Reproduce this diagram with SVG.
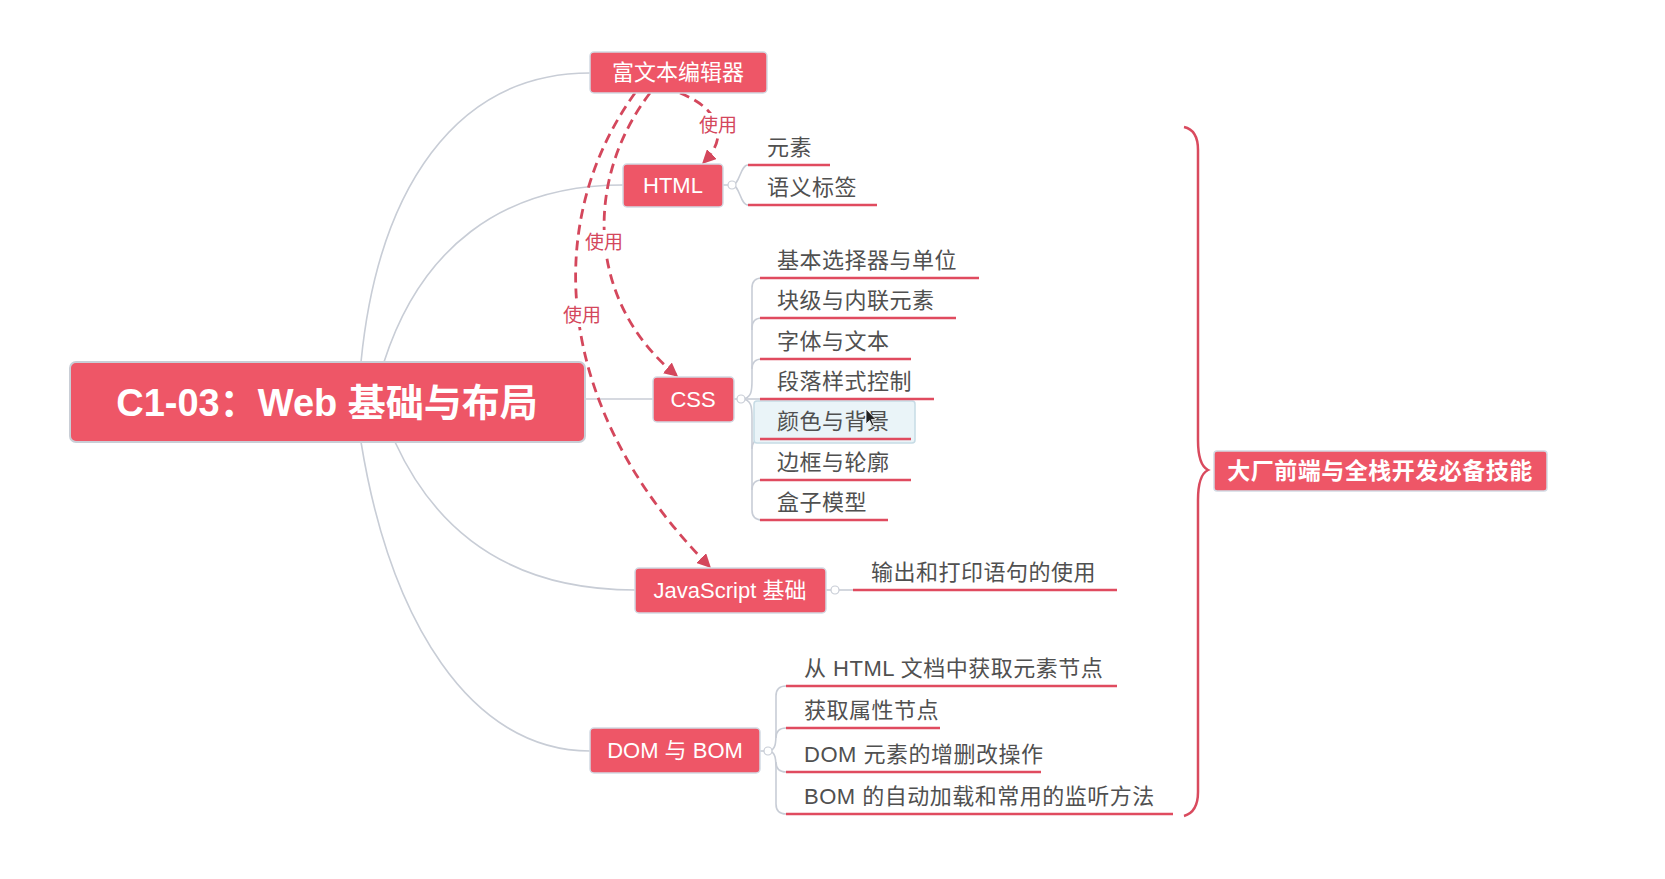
<svg xmlns="http://www.w3.org/2000/svg" width="1665" height="879" viewBox="0 0 1665 879">
<defs>
<style>
.node{fill:#ee5667;stroke:#d2dae3;stroke-width:1.5}
.ntxt{fill:#ffffff;font-family:"Liberation Sans","Noto Sans CJK SC",sans-serif;font-size:22px;text-anchor:middle}
.leaf{fill:#505050;font-family:"Liberation Sans","Noto Sans CJK SC",sans-serif;font-size:22px;letter-spacing:0.5px}
.ul{stroke:#e04b5f;stroke-width:2.5;fill:none}
.conn{stroke:#c8cdd6;stroke-width:1.6;fill:none}
.dash{stroke:#d4475c;stroke-width:2.8;fill:none;stroke-dasharray:10 6;marker-end:url(#arr)}
.lbl{fill:#d4475c;font-family:"Liberation Sans","Noto Sans CJK SC",sans-serif;font-size:19px;text-anchor:middle}
.dot{fill:#fff;stroke:#c8cdd6;stroke-width:1.2}
</style>
<marker id="arr" viewBox="0 0 10 10" refX="8" refY="5" markerWidth="5" markerHeight="5" orient="auto" markerUnits="strokeWidth">
<path d="M0,0 L10,5 L0,10 Z" fill="#d4475c"/>
</marker>
</defs>
<rect width="1665" height="879" fill="#ffffff"/>

<g id="connectors">
<path class="conn" d="M361,362 C378,190 455,73 590,73"/>
<path class="conn" d="M384,362 C420,250 500,185 623,185"/>
<path class="conn" d="M585,399 L653,399"/>
<path class="conn" d="M395,442 C440,540 520,590 635,590"/>
<path class="conn" d="M361,442 C390,620 470,751 590,751"/>
<!-- HTML leaves -->
<path class="conn" d="M723,185 H732 C740,185 740,165 748,165"/>
<path class="conn" d="M732,185 C740,185 740,205 748,205"/>
<!-- CSS leaves -->
<path class="conn" d="M734,399 H760"/>
<path class="conn" d="M741,399 C752,399 752,390 752,380 V288 Q752,278 762,278"/>
<path class="conn" d="M752,330 V328 Q752,318 762,318"/>
<path class="conn" d="M752,369 Q752,359 762,359"/>
<path class="conn" d="M741,399 C752,399 752,408 752,418 V510 Q752,520 762,520"/>
<path class="conn" d="M752,449 Q752,439 762,439"/>
<path class="conn" d="M752,490 Q752,480 762,480"/>
<!-- JS leaf -->
<path class="conn" d="M826,590 H853"/>
<!-- DOM leaves -->
<path class="conn" d="M760,751 H768"/>
<path class="conn" d="M768,751 C776,751 776,742 776,732 V696 Q776,686 786,686"/>
<path class="conn" d="M776,738 Q776,728 786,728"/>
<path class="conn" d="M768,751 C776,751 776,760 776,770 V804 Q776,814 786,814"/>
<path class="conn" d="M776,762 Q776,772 786,772"/>
<circle class="dot" cx="732" cy="185" r="4"/>
<circle class="dot" cx="741" cy="399" r="4"/>
<circle class="dot" cx="835" cy="590" r="4"/>
<circle class="dot" cx="768" cy="751" r="4"/>
<!-- dashed "使用" relations -->
<path class="dash" d="M680,93 C722,110 728,138 704,162"/>
<path class="dash" d="M650,93 C585,178 585,300 676,375"/>
<path class="dash" d="M635,93 C540,225 555,410 709,566"/>
<rect x="698" y="113" width="40" height="24" fill="#fff"/>
<text class="lbl" x="718" y="132">使用</text>
<rect x="584" y="230" width="40" height="24" fill="#fff"/>
<text class="lbl" x="604" y="249">使用</text>
<rect x="562" y="303" width="40" height="24" fill="#fff"/>
<text class="lbl" x="582" y="322">使用</text>
<!-- brace -->
<path d="M1184,127 Q1198,130 1198,150 V440 Q1198,465 1208,470 Q1198,475 1198,500 V792 Q1198,812 1184,816" fill="none" stroke="#d94a5e" stroke-width="2.5"/>
</g>

<g id="root">
<rect class="node" x="70" y="362" width="515" height="80" rx="6" style="stroke:#c9ced6;stroke-width:2"/>
<text x="327" y="416" style="fill:#fff;font-family:'Liberation Sans','Noto Sans CJK SC',sans-serif;font-size:38px;font-weight:bold;text-anchor:middle">C1-03：Web 基础与布局</text>
</g>

<g id="node-richtext">
<rect class="node" x="590" y="52" width="177" height="41" rx="4"/>
<text class="ntxt" x="678" y="80">富文本编辑器</text>
</g>

<g id="node-html">
<rect class="node" x="623" y="164" width="100" height="43" rx="4"/>
<text class="ntxt" x="673" y="193">HTML</text>
<text class="leaf" x="767" y="155">元素</text>
<line class="ul" x1="748" y1="165" x2="830" y2="165"/>
<text class="leaf" x="767" y="195">语义标签</text>
<line class="ul" x1="748" y1="205" x2="877" y2="205"/>
</g>

<g id="node-css">
<rect class="node" x="653" y="377" width="81" height="45" rx="4"/>
<text class="ntxt" x="693" y="407">CSS</text>
<rect x="754" y="401" width="161" height="42" rx="3" fill="#eaf4f8" stroke="#c6dbe5" stroke-width="1.5"/>
<text class="leaf" x="777" y="268">基本选择器与单位</text>
<line class="ul" x1="760" y1="278" x2="979" y2="278"/>
<text class="leaf" x="777" y="308">块级与内联元素</text>
<line class="ul" x1="760" y1="318" x2="956" y2="318"/>
<text class="leaf" x="777" y="349">字体与文本</text>
<line class="ul" x1="760" y1="359" x2="911" y2="359"/>
<text class="leaf" x="777" y="389">段落样式控制</text>
<line class="ul" x1="760" y1="399" x2="934" y2="399"/>
<text class="leaf" x="777" y="429">颜色与背景</text>
<line class="ul" x1="760" y1="439" x2="911" y2="439"/>
<text class="leaf" x="777" y="470">边框与轮廓</text>
<line class="ul" x1="760" y1="480" x2="911" y2="480"/>
<text class="leaf" x="777" y="510">盒子模型</text>
<line class="ul" x1="760" y1="520" x2="888" y2="520"/>
<path d="M866,409 L866,424 L869.5,420.5 L872,426 L874,425 L871.5,419.5 L876,419.5 Z" fill="#222" stroke="#fff" stroke-width="0.8"/>
</g>

<g id="node-js">
<rect class="node" x="635" y="568" width="191" height="45" rx="4"/>
<text class="ntxt" x="730" y="598">JavaScript 基础</text>
<text class="leaf" x="871" y="580">输出和打印语句的使用</text>
<line class="ul" x1="853" y1="590" x2="1117" y2="590"/>
</g>

<g id="node-dom">
<rect class="node" x="590" y="728" width="170" height="45" rx="4"/>
<text class="ntxt" x="675" y="758">DOM 与 BOM</text>
<text class="leaf" x="804" y="676">从 HTML 文档中获取元素节点</text>
<line class="ul" x1="786" y1="686" x2="1117" y2="686"/>
<text class="leaf" x="804" y="718">获取属性节点</text>
<line class="ul" x1="786" y1="728" x2="940" y2="728"/>
<text class="leaf" x="804" y="762">DOM 元素的增删改操作</text>
<line class="ul" x1="786" y1="772" x2="1041" y2="772"/>
<text class="leaf" x="804" y="804">BOM 的自动加载和常用的监听方法</text>
<line class="ul" x1="786" y1="814" x2="1173" y2="814"/>
</g>

<g id="node-summary">
<rect class="node" x="1214" y="451" width="333" height="40" rx="3"/>
<text class="ntxt" x="1380" y="479" style="font-weight:bold;font-size:23px;letter-spacing:0.5px">大厂前端与全栈开发必备技能</text>
</g>
</svg>
